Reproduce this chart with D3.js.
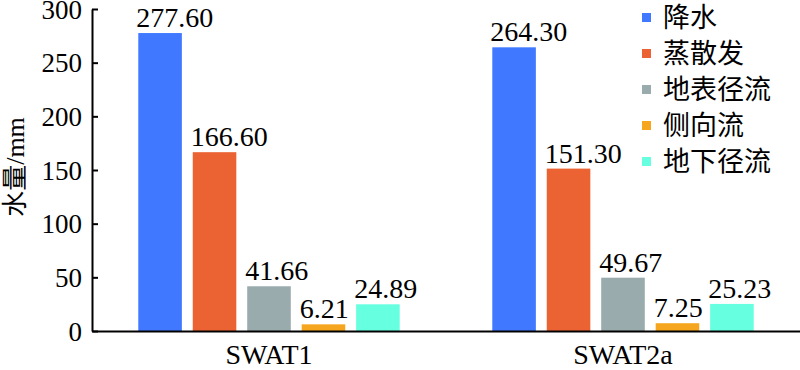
<!DOCTYPE html>
<html>
<head>
<meta charset="utf-8">
<script src="https://cdn.jsdelivr.net/npm/d3@7"></script>
<style>
  body { margin: 0; background: #fff; }
</style>
</head>
<body>
<svg id="chart" width="800" height="370"></svg>
<script>
// data
const groups = ["SWAT1", "SWAT2a"];
const series = ["降水", "蒸散发", "地表径流", "侧向流", "地下径流"];
const colors = ["#4078ff", "#eb6332", "#99abad", "#f5a51e", "#66ffe0"];
const swat1 = [277.60, 166.60, 41.66, 6.21, 24.89];
const swat2a = [264.30, 151.30, 49.67, 7.25, 25.23];
const yTicks = [0, 50, 100, 150, 200, 250, 300];

const values = [swat1, swat2a];
const SERIF = "'Liberation Serif', 'Times New Roman', serif";
const CJK = "'Noto Sans CJK SC', sans-serif";
const svg = d3.select("#chart");
const m = { left: 92, right: 800, top: 9, bottom: 331 };

const y = d3.scaleLinear().domain([0, 300]).range([m.bottom, m.top]);
const x0 = d3.scaleBand().domain(groups).range([m.left, m.right]);
const x1 = d3.scaleBand().domain(series).range([0, x0.bandwidth()])
  .paddingInner(0.2).paddingOuter(0.85);

// bars + value labels
groups.forEach((g, gi) => {
  const gg = svg.append("g").attr("transform", `translate(${x0(g)},0)`);
  gg.selectAll("rect")
    .data(values[gi])
    .enter().append("rect")
    .attr("x", (d, i) => x1(series[i]))
    .attr("y", d => y(d))
    .attr("width", x1.bandwidth())
    .attr("height", d => m.bottom - y(d))
    .attr("fill", (d, i) => colors[i]);
  gg.selectAll("text")
    .data(values[gi])
    .enter().append("text")
    .attr("x", (d, i) => x1(series[i]) - 2)
    .attr("y", d => y(d) - 6)
    .style("font-family", SERIF)
    .style("font-size", "28px")
    .attr("fill", "#000")
    .text(d => d.toFixed(2));
});

// y axis
const yAxis = svg.append("g")
  .attr("transform", `translate(${m.left},0)`)
  .call(d3.axisLeft(y).tickValues(yTicks).tickSizeInner(-6).tickSizeOuter(0).tickPadding(10));
yAxis.select(".domain").attr("stroke", "#000").attr("stroke-width", 2);
yAxis.selectAll(".tick line").attr("stroke", "#000").attr("stroke-width", 2);
yAxis.selectAll(".tick text")
  .style("font-family", SERIF)
  .style("font-size", "27px")
  .attr("dy", "0.34em");

// x axis
const xAxis = svg.append("g")
  .attr("transform", `translate(0,${m.bottom})`)
  .call(d3.axisBottom(x0).tickSize(0).tickPadding(13));
xAxis.select(".domain").attr("stroke", "#000").attr("stroke-width", 2);
xAxis.selectAll(".tick text")
  .style("font-family", SERIF)
  .style("font-size", "28px")
  .attr("dy", "0.71em");

// y title
const title = svg.append("text")
  .attr("transform", "translate(24,167) rotate(-90)")
  .attr("text-anchor", "middle")
  .style("font-size", "26px")
  .attr("fill", "#000");
title.append("tspan").style("font-family", CJK).text("水量");
title.append("tspan").style("font-family", SERIF).text("/mm");

// legend
const legend = svg.append("g").attr("transform", "translate(642,13)");
series.forEach((s, i) => {
  const row = legend.append("g").attr("transform", `translate(0,${i * 36})`);
  row.append("rect").attr("width", 9).attr("height", 9).attr("fill", colors[i]);
  row.append("text")
    .attr("x", 21)
    .attr("y", 4.5)
    .attr("dy", "0.36em")
    .style("font-family", CJK)
    .style("font-size", "27px")
    .attr("fill", "#000")
    .text(s);
});
</script>
</body>
</html>
